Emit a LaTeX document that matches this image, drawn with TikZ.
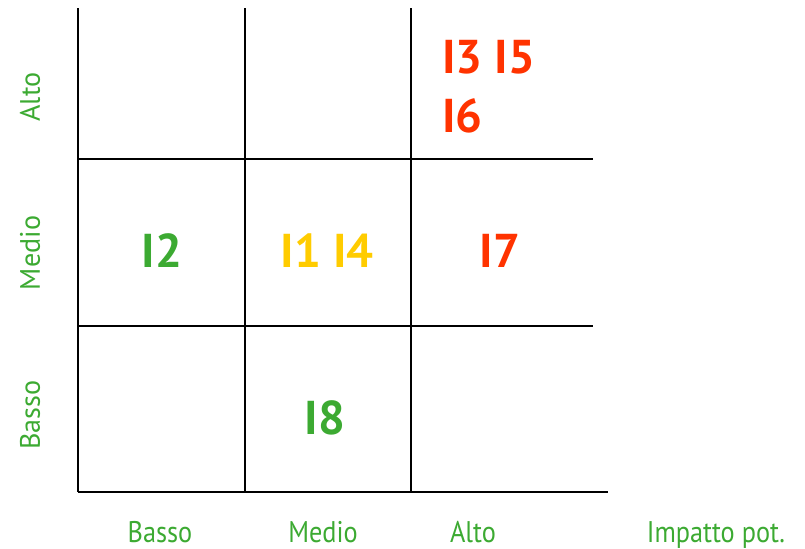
\documentclass[tikz,border=0pt]{standalone}
\usepackage{fontspec}
\setmainfont{PT Sans}
\usepackage{xcolor}
\usepackage{tikz}
\usetikzlibrary{positioning, calc}

\definecolor{lblgreen}{RGB}{60,170,50}
\definecolor{riskred}{RGB}{255,51,0}
\definecolor{riskyellow}{RGB}{255,204,0}

\tikzset{
    axislbl/.style={text=lblgreen, font=\fontsize{16}{18}\selectfont, inner sep=0pt},
    botlbl/.style={text=lblgreen, font=\fontsize{17}{19}\selectfont, inner sep=0pt, xscale=0.88},
    cell/.style={font=\bfseries\fontsize{27}{30}\selectfont, inner sep=0pt}
}

\begin{document}
\begin{tikzpicture}[scale=1]
\useasboundingbox (0,0) rectangle (16.1,10.96);

% Grid
\foreach \x in {1.56, 4.9, 8.22} {
    \draw[thick] (\x, 1.12) -- (\x, 10.8);
}
\foreach \y in {4.44, 7.78} {
    \draw[thick] (1.56, \y) -- (11.86, \y);
}
\draw[thick] (1.56, 1.12) -- (12.16, 1.12);

% Vertical axis labels
\node[axislbl, rotate=90] (ya) at (0.6, 9.02) {Alto};
\node[axislbl, rotate=90] (ym) at (0.6, 5.9) {Medio};
\node[axislbl, rotate=90] (yb) at (0.6, 2.66) {Basso};

% Horizontal axis labels
\node[botlbl, anchor=base] (xb) at (3.2, 0.12) {Basso};
\node[botlbl, anchor=base] (xm) at (6.46, 0.12) {Medio};
\node[botlbl, anchor=base] (xa) at (9.46, 0.12) {Alto};
\node[botlbl, anchor=base] (imp) at (14.32, 0.12) {Impatto pot.};

% Cells
\node[cell, text=riskred, anchor=west] (i35) at (8.84, 9.82) {I3 I5};
\node[cell, text=riskred, anchor=west] (i6) at (8.84, 8.64) {I6};
\node[cell, text=lblgreen] (i2) at (3.24, 5.94) {I2};
\node[cell, text=riskyellow] (i14) at (6.54, 5.94) {I1 I4};
\node[cell, text=riskred] (i7) at (10.0, 5.94) {I7};
\node[cell, text=lblgreen] (i8) at (6.5, 2.6) {I8};
\end{tikzpicture}
\end{document}
